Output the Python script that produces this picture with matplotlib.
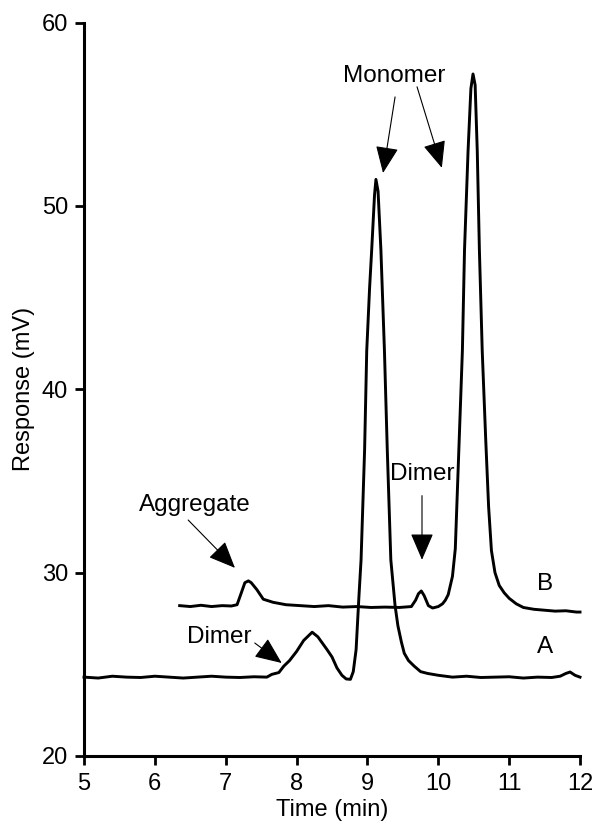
import matplotlib.pyplot as plt

plt.rcParams['font.family'] = ['Liberation Sans', 'DejaVu Sans']

# trace A (sample)
time_a = [5.0, 5.2, 5.4, 5.6, 5.8, 6.0, 6.2, 6.4, 6.6, 6.8, 7.0, 7.2, 7.4, 7.58, 7.65,
          7.75, 7.82, 7.9, 8.0, 8.1, 8.22, 8.3, 8.43, 8.5, 8.57, 8.64, 8.7, 8.76, 8.8,
          8.84, 8.88, 8.91, 8.96, 8.99, 9.03, 9.06, 9.1, 9.12, 9.15, 9.19, 9.24, 9.28,
          9.33, 9.39, 9.43, 9.48, 9.52, 9.58, 9.66, 9.75, 9.85, 10.0, 10.2, 10.4, 10.6,
          10.8, 11.0, 11.2, 11.4, 11.6, 11.72, 11.8, 11.86, 11.93, 12.0]
resp_a = [24.3, 24.25, 24.35, 24.3, 24.28, 24.35, 24.3, 24.25, 24.3, 24.35, 24.3, 24.28,
          24.32, 24.3, 24.45, 24.55, 24.9, 25.2, 25.7, 26.3, 26.75, 26.5, 25.8, 25.4,
          24.8, 24.4, 24.2, 24.18, 24.6, 25.8, 28.7, 30.7, 36.7, 42.1, 45.5, 47.6, 50.6,
          51.45, 50.8, 47.6, 42.1, 36.7, 30.7, 28.2, 27.1, 26.2, 25.6, 25.2, 24.9, 24.6,
          24.5, 24.4, 24.3, 24.35, 24.28, 24.3, 24.32, 24.25, 24.3, 24.28, 24.35, 24.5,
          24.58, 24.4, 24.3]

# trace B
time_b = [6.35, 6.5, 6.65, 6.8, 6.95, 7.08, 7.16, 7.22, 7.27, 7.32, 7.36, 7.44, 7.53,
          7.67, 7.85, 8.05, 8.25, 8.45, 8.65, 8.85, 9.05, 9.25, 9.45, 9.62, 9.68, 9.72,
          9.76, 9.8, 9.86, 9.92, 10.0, 10.06, 10.1, 10.14, 10.2, 10.24, 10.29, 10.34,
          10.37, 10.42, 10.46, 10.49, 10.52, 10.55, 10.58, 10.62, 10.67, 10.71, 10.75,
          10.8, 10.86, 10.93, 11.0, 11.1, 11.2, 11.35, 11.5, 11.65, 11.8, 11.95, 12.0]
resp_b = [28.2, 28.15, 28.22, 28.15, 28.2, 28.18, 28.25, 28.9, 29.45, 29.55, 29.45,
          29.07, 28.55, 28.38, 28.25, 28.2, 28.15, 28.2, 28.12, 28.15, 28.1, 28.12, 28.1,
          28.15, 28.5, 28.85, 29.0, 28.75, 28.2, 28.07, 28.15, 28.3, 28.5, 28.8, 29.8,
          31.3, 36.7, 42.1, 47.6, 53.0, 56.4, 57.2, 56.6, 53.0, 47.6, 42.1, 37.2, 33.6,
          31.2, 30.0, 29.3, 28.9, 28.6, 28.3, 28.1, 28.0, 27.95, 27.9, 27.92, 27.85, 27.85]

xticks = [5, 6, 7, 8, 9, 10, 11, 12]
yticks = [20, 30, 40, 50, 60]

fig = plt.figure(figsize=(5.95, 8.27), dpi=100)
ax = fig.add_axes([0.1412, 0.0859, 0.8336, 0.8867])

ax.plot(time_a, resp_a, color='black', lw=2.1, clip_on=False)
ax.plot(time_b, resp_b, color='black', lw=2.1, clip_on=False)

ax.set_xlim(5, 12)
ax.set_ylim(20, 60)
ax.set_xticks(xticks)
ax.tick_params(direction='out', length=6.5, width=2, labelsize=17, pad=5)
ax.tick_params(axis='x', pad=6)
ax.set_yticks(yticks)
for s in ['top', 'right']:
    ax.spines[s].set_visible(False)
for s in ['left', 'bottom']:
    ax.spines[s].set_linewidth(2.2)

ax.set_xlabel('Time (min)', fontsize=17, labelpad=3)
ax.set_ylabel('Response (mV)', fontsize=17, labelpad=5)

arrow = dict(arrowstyle='-|>,head_length=1.4,head_width=0.6', mutation_scale=12,
             color='black', lw=0.8, shrinkA=0, shrinkB=0)

ax.text(9.375, 57.1, 'Monomer', fontsize=17.5, ha='center', va='center')
ax.annotate('', xy=(9.22, 51.8), xytext=(9.39, 55.95), arrowprops=arrow)
ax.annotate('', xy=(10.05, 52.08), xytext=(9.70, 56.5), arrowprops=arrow)

ax.text(6.57, 33.7, 'Aggregate', fontsize=17.5, ha='center', va='center')
ax.annotate('', xy=(7.13, 30.26), xytext=(6.47, 32.87), arrowprops=arrow)

ax.text(6.905, 26.5, 'Dimer', fontsize=17.5, ha='center', va='center')
ax.annotate('', xy=(7.79, 25.07), xytext=(7.41, 26.16), arrowprops=arrow)

ax.text(9.77, 35.4, 'Dimer', fontsize=17.5, ha='center', va='center')
ax.annotate('', xy=(9.77, 30.7), xytext=(9.77, 34.2), arrowprops=arrow)

ax.text(11.5, 29.4, 'B', fontsize=17.5, ha='center', va='center')
ax.text(11.5, 25.95, 'A', fontsize=17.5, ha='center', va='center')

fig.savefig('out.png', dpi=100)
